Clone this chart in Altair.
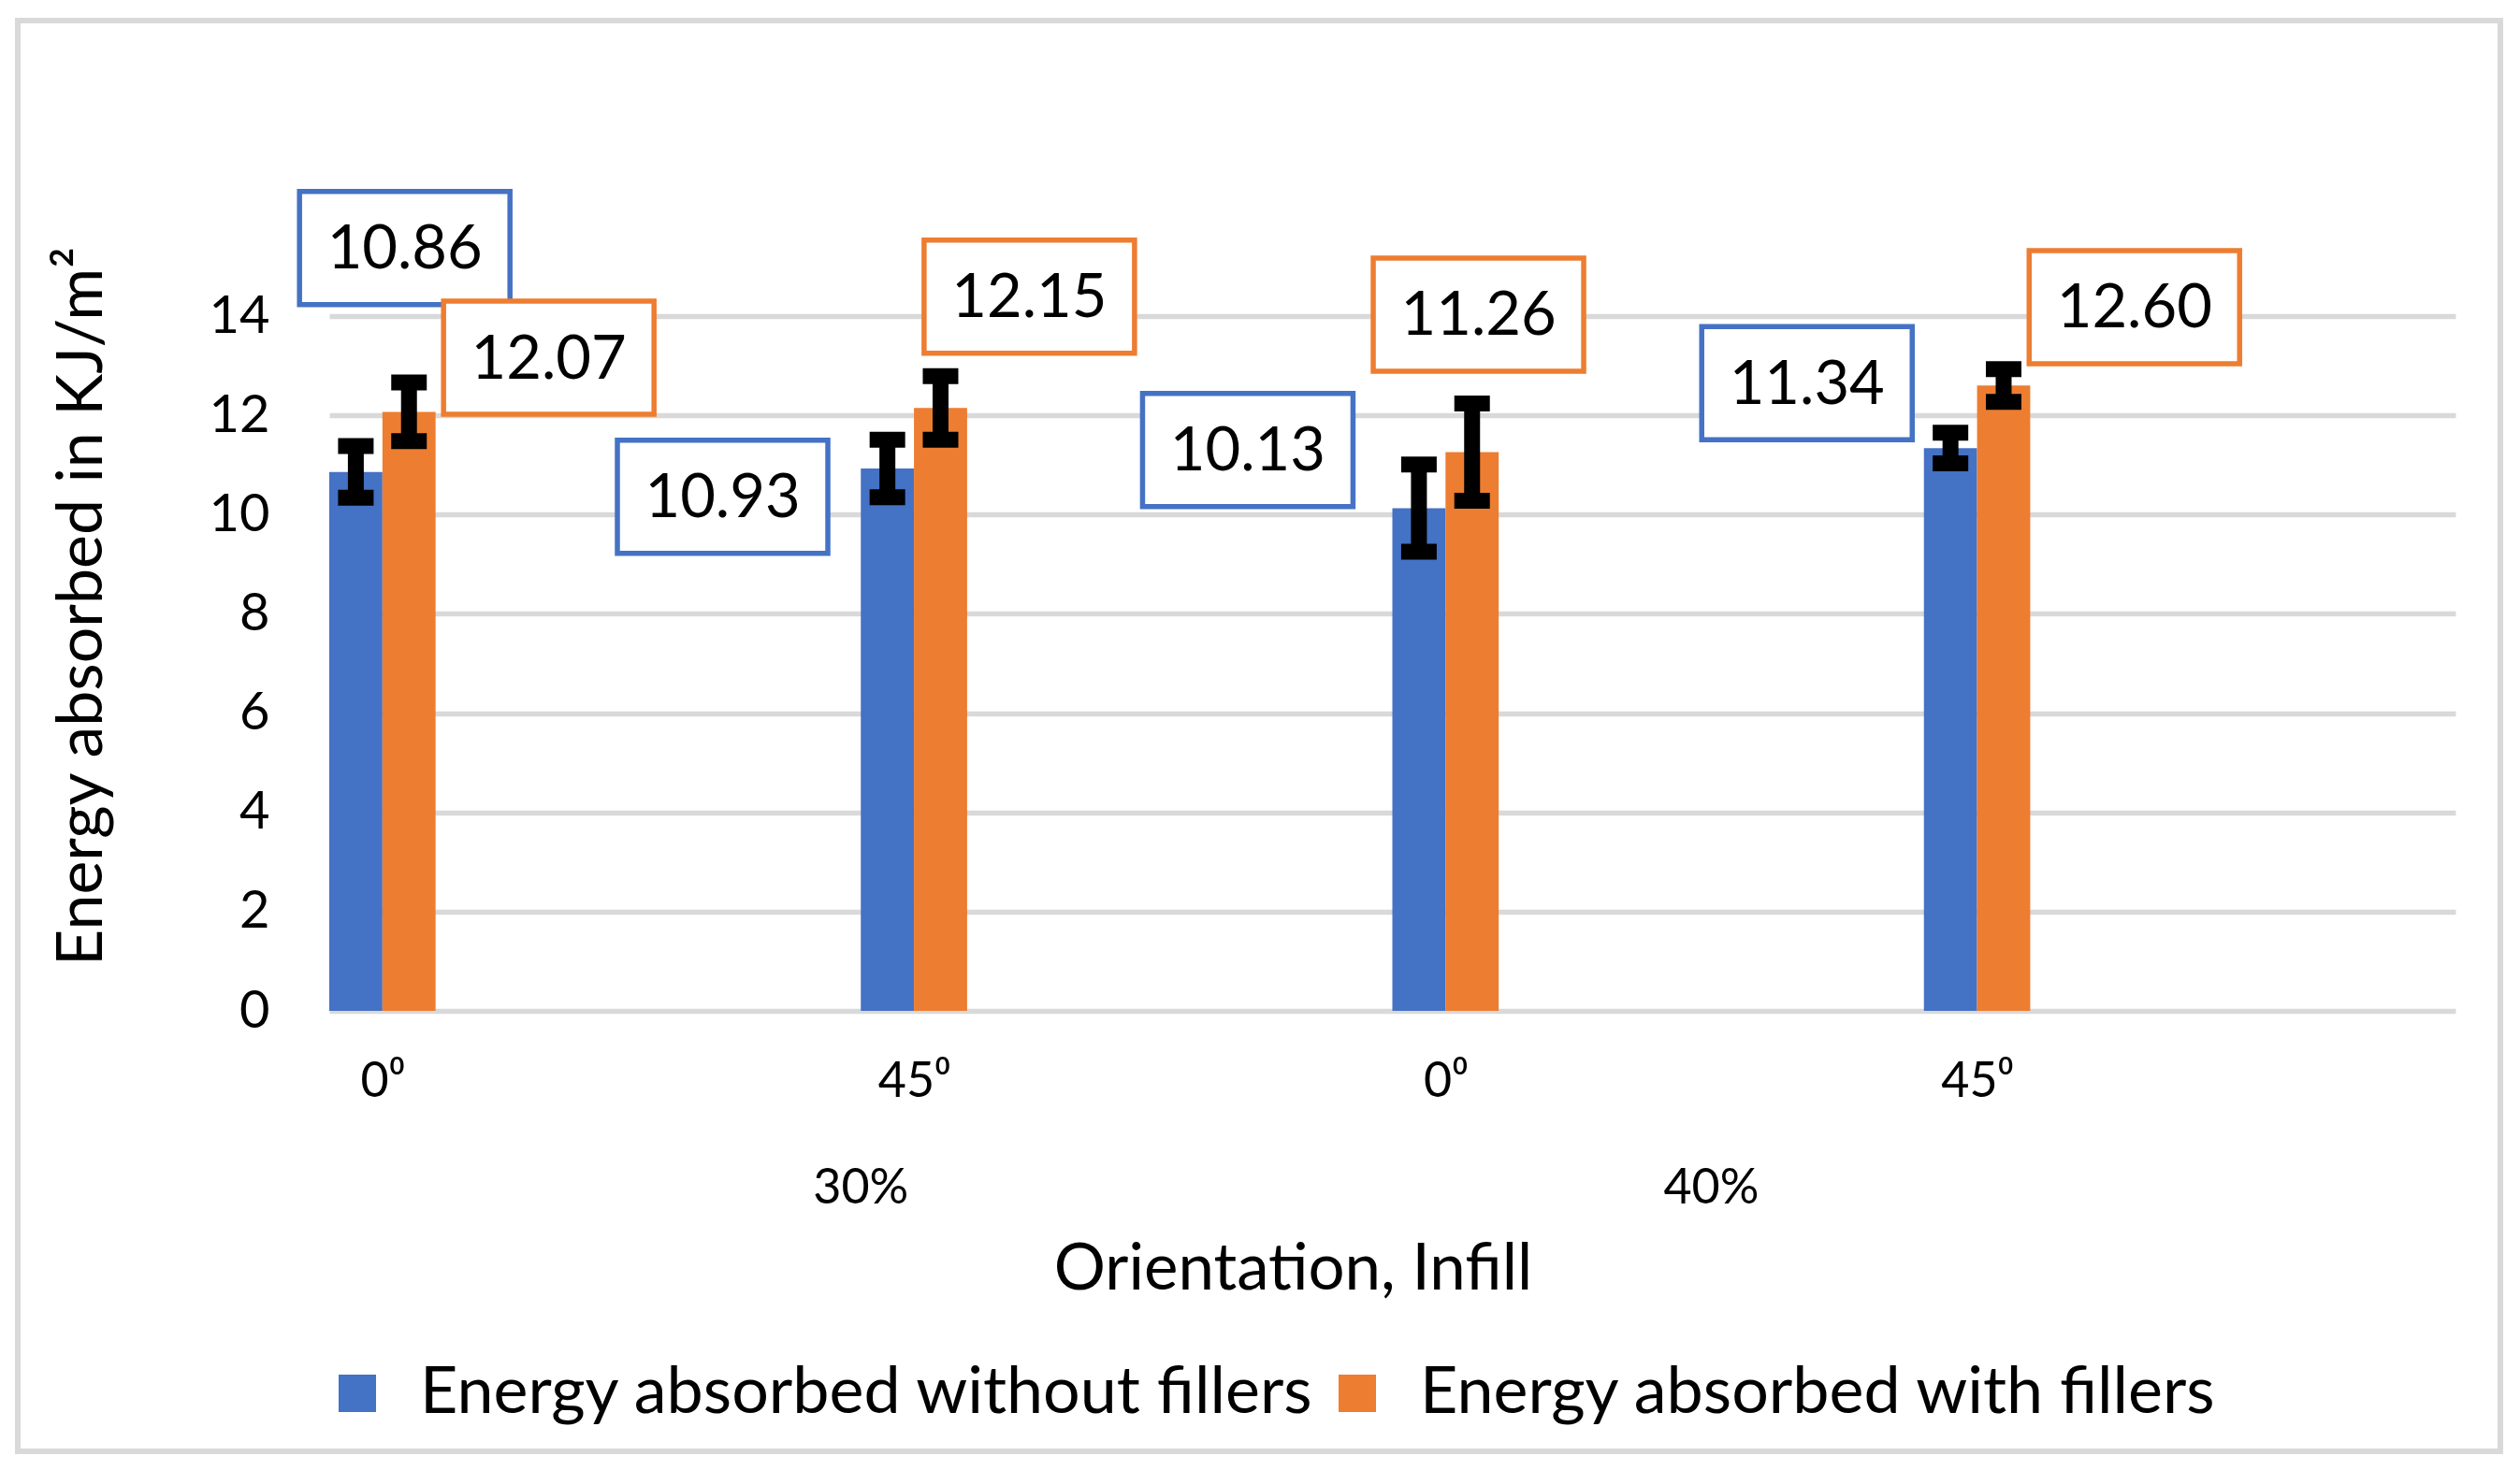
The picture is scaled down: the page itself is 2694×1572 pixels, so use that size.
import altair as alt
import pandas as pd

# ---------------- data ----------------
orientation = ["0⁰", "45⁰", "0⁰", "45⁰"]
infill_groups = ["30%", "40%"]
series = ["Energy absorbed without fillers", "Energy absorbed with fillers"]
without_fillers = [10.86, 10.93, 10.13, 11.34]
with_fillers = [12.07, 12.15, 11.26, 12.60]
err_without = [0.52, 0.58, 0.88, 0.31]
err_with = [0.59, 0.64, 0.98, 0.33]

# ---------------- layout / style ----------------
colors = ["#4472C4", "#ED7D31"]
FONT = "Lato"
SLOT = 0.1  # bar width in category units
# manual data-label placement (offset from category start, and height in value units)
label_dx = [[0.142, -0.260, -0.272, -0.220], [0.413, 0.317, 0.162, 0.396]]
label_y = [[15.37, 10.36, 11.30, 12.65], [13.16, 14.39, 14.03, 14.18]]
group_x = [1.0, 2.6]

values = [without_fillers, with_fillers]
errors = [err_without, err_with]

rows = []
caps = []
for s in range(2):
    for i in range(4):
        x0 = i + s * SLOT
        v = values[s][i]
        e = errors[s][i]
        rows.append({
            "series": series[s],
            "x": x0,
            "x2": x0 + SLOT,
            "xc": x0 + SLOT / 2,
            "base": 0.0,
            "value": v,
            "lo": v - e,
            "hi": v + e,
            "lx": i + label_dx[s][i],
            "ly": label_y[s][i],
            "label": f"{v:.2f}",
        })
        caps.append({"xc": x0 + SLOT / 2, "cap": v + e})
        caps.append({"xc": x0 + SLOT / 2, "cap": v - e})
df = pd.DataFrame(rows)
caps_df = pd.DataFrame(caps)
groups_df = pd.DataFrame({"group": infill_groups, "gx": group_x})

label_expr = "[" + ",".join(f"'{o}'" for o in orientation) + "][floor(datum.value)]"

xscale = alt.Scale(domain=[0, 4], nice=False, zero=False)
yscale = alt.Scale(domain=[0, 14], nice=False, zero=True)
color_scale = alt.Scale(domain=series, range=colors)

x_axis = alt.Axis(
    values=[i + SLOT for i in range(4)],
    labelExpr=label_expr,
    title="Orientation, Infill",
    grid=False, ticks=False, tickSize=0, domain=False,
    labelFont=FONT, labelFontSize=52, labelColor="black",
    labelBaseline="middle", labelPadding=75,
    titleFont=FONT, titleFontSize=69, titleFontWeight="normal", titleColor="black",
    titleX=1030, titleY=276, titleBaseline="middle", titleAlign="center",
)
y_axis = alt.Axis(
    values=list(range(0, 15, 2)),
    title="Energy  absorbed in KJ/m²",
    grid=True, gridColor="#D9D9D9", gridWidth=5.5,
    ticks=False, tickSize=0, domain=False,
    labelFont=FONT, labelFontSize=56, labelColor="black", labelPadding=64,
    titleFont=FONT, titleFontSize=68, titleFontWeight="normal", titleColor="black",
    titleX=-264, titleY=310, titleBaseline="middle", titleAlign="center",
)


def X(field):
    return alt.X(field, type="quantitative", scale=xscale, axis=x_axis)


def Y(field):
    return alt.Y(field, type="quantitative", scale=yscale, axis=y_axis)


base = alt.Chart(df)

bars = base.mark_rect().encode(
    x=X("x"),
    x2="x2:Q",
    y=Y("value"),
    y2="base:Q",
    color=alt.Color("series:N", scale=color_scale, legend=alt.Legend(
        title=None, orient="none", direction="horizontal",
        legendX=-5, legendY=1117,
        symbolType="square", symbolSize=1600, symbolStrokeWidth=0,
        symbolOpacity=1,
        labelFont=FONT, labelFontSize=70, labelColor="black", labelOffset=32,
        labelLimit=2000,
        columnPadding=10, padding=0,
    )),
)

stems = base.mark_rule(color="black", strokeWidth=17, strokeCap="butt").encode(
    x=X("xc"),
    y=Y("lo"),
    y2="hi:Q",
)

cap_marks = alt.Chart(caps_df).mark_rect(color="black", width=38, height=17).encode(
    x=X("xc"),
    y=Y("cap"),
)

boxes = base.mark_rect(width=225, height=121, fill="white", strokeWidth=5.5).encode(
    x=X("lx"),
    y=Y("ly"),
    stroke=alt.Stroke("series:N", scale=color_scale, legend=None),
)

box_text = base.mark_text(font=FONT, fontSize=65, color="black",
                          align="center", baseline="middle", dy=2).encode(
    x=X("lx"),
    y=Y("ly"),
    text="label:N",
)

group_text = alt.Chart(groups_df).mark_text(font=FONT, fontSize=52, color="black",
                                            align="center", baseline="middle").encode(
    x=X("gx"),
    y=alt.value(933),
    text="group:N",
)

border = alt.Chart(pd.DataFrame({"k": [0]})).mark_rect(
    fillOpacity=0, stroke="#D9D9D9", strokeWidth=6
).encode(
    x=alt.value(-333), x2=alt.value(2321),
    y=alt.value(-316), y2=alt.value(1214),
)

chart = alt.layer(border, bars, stems, cap_marks, boxes, box_text, group_text).properties(
    width=2273, height=743,
    padding={"left": 344, "top": 330, "right": 61, "bottom": 483},
    autosize=alt.AutoSizeParams(type="none"),
    background="white",
).configure_view(strokeWidth=0)

chart.save("out.html", embed_options={"renderer": "svg", "actions": False})
